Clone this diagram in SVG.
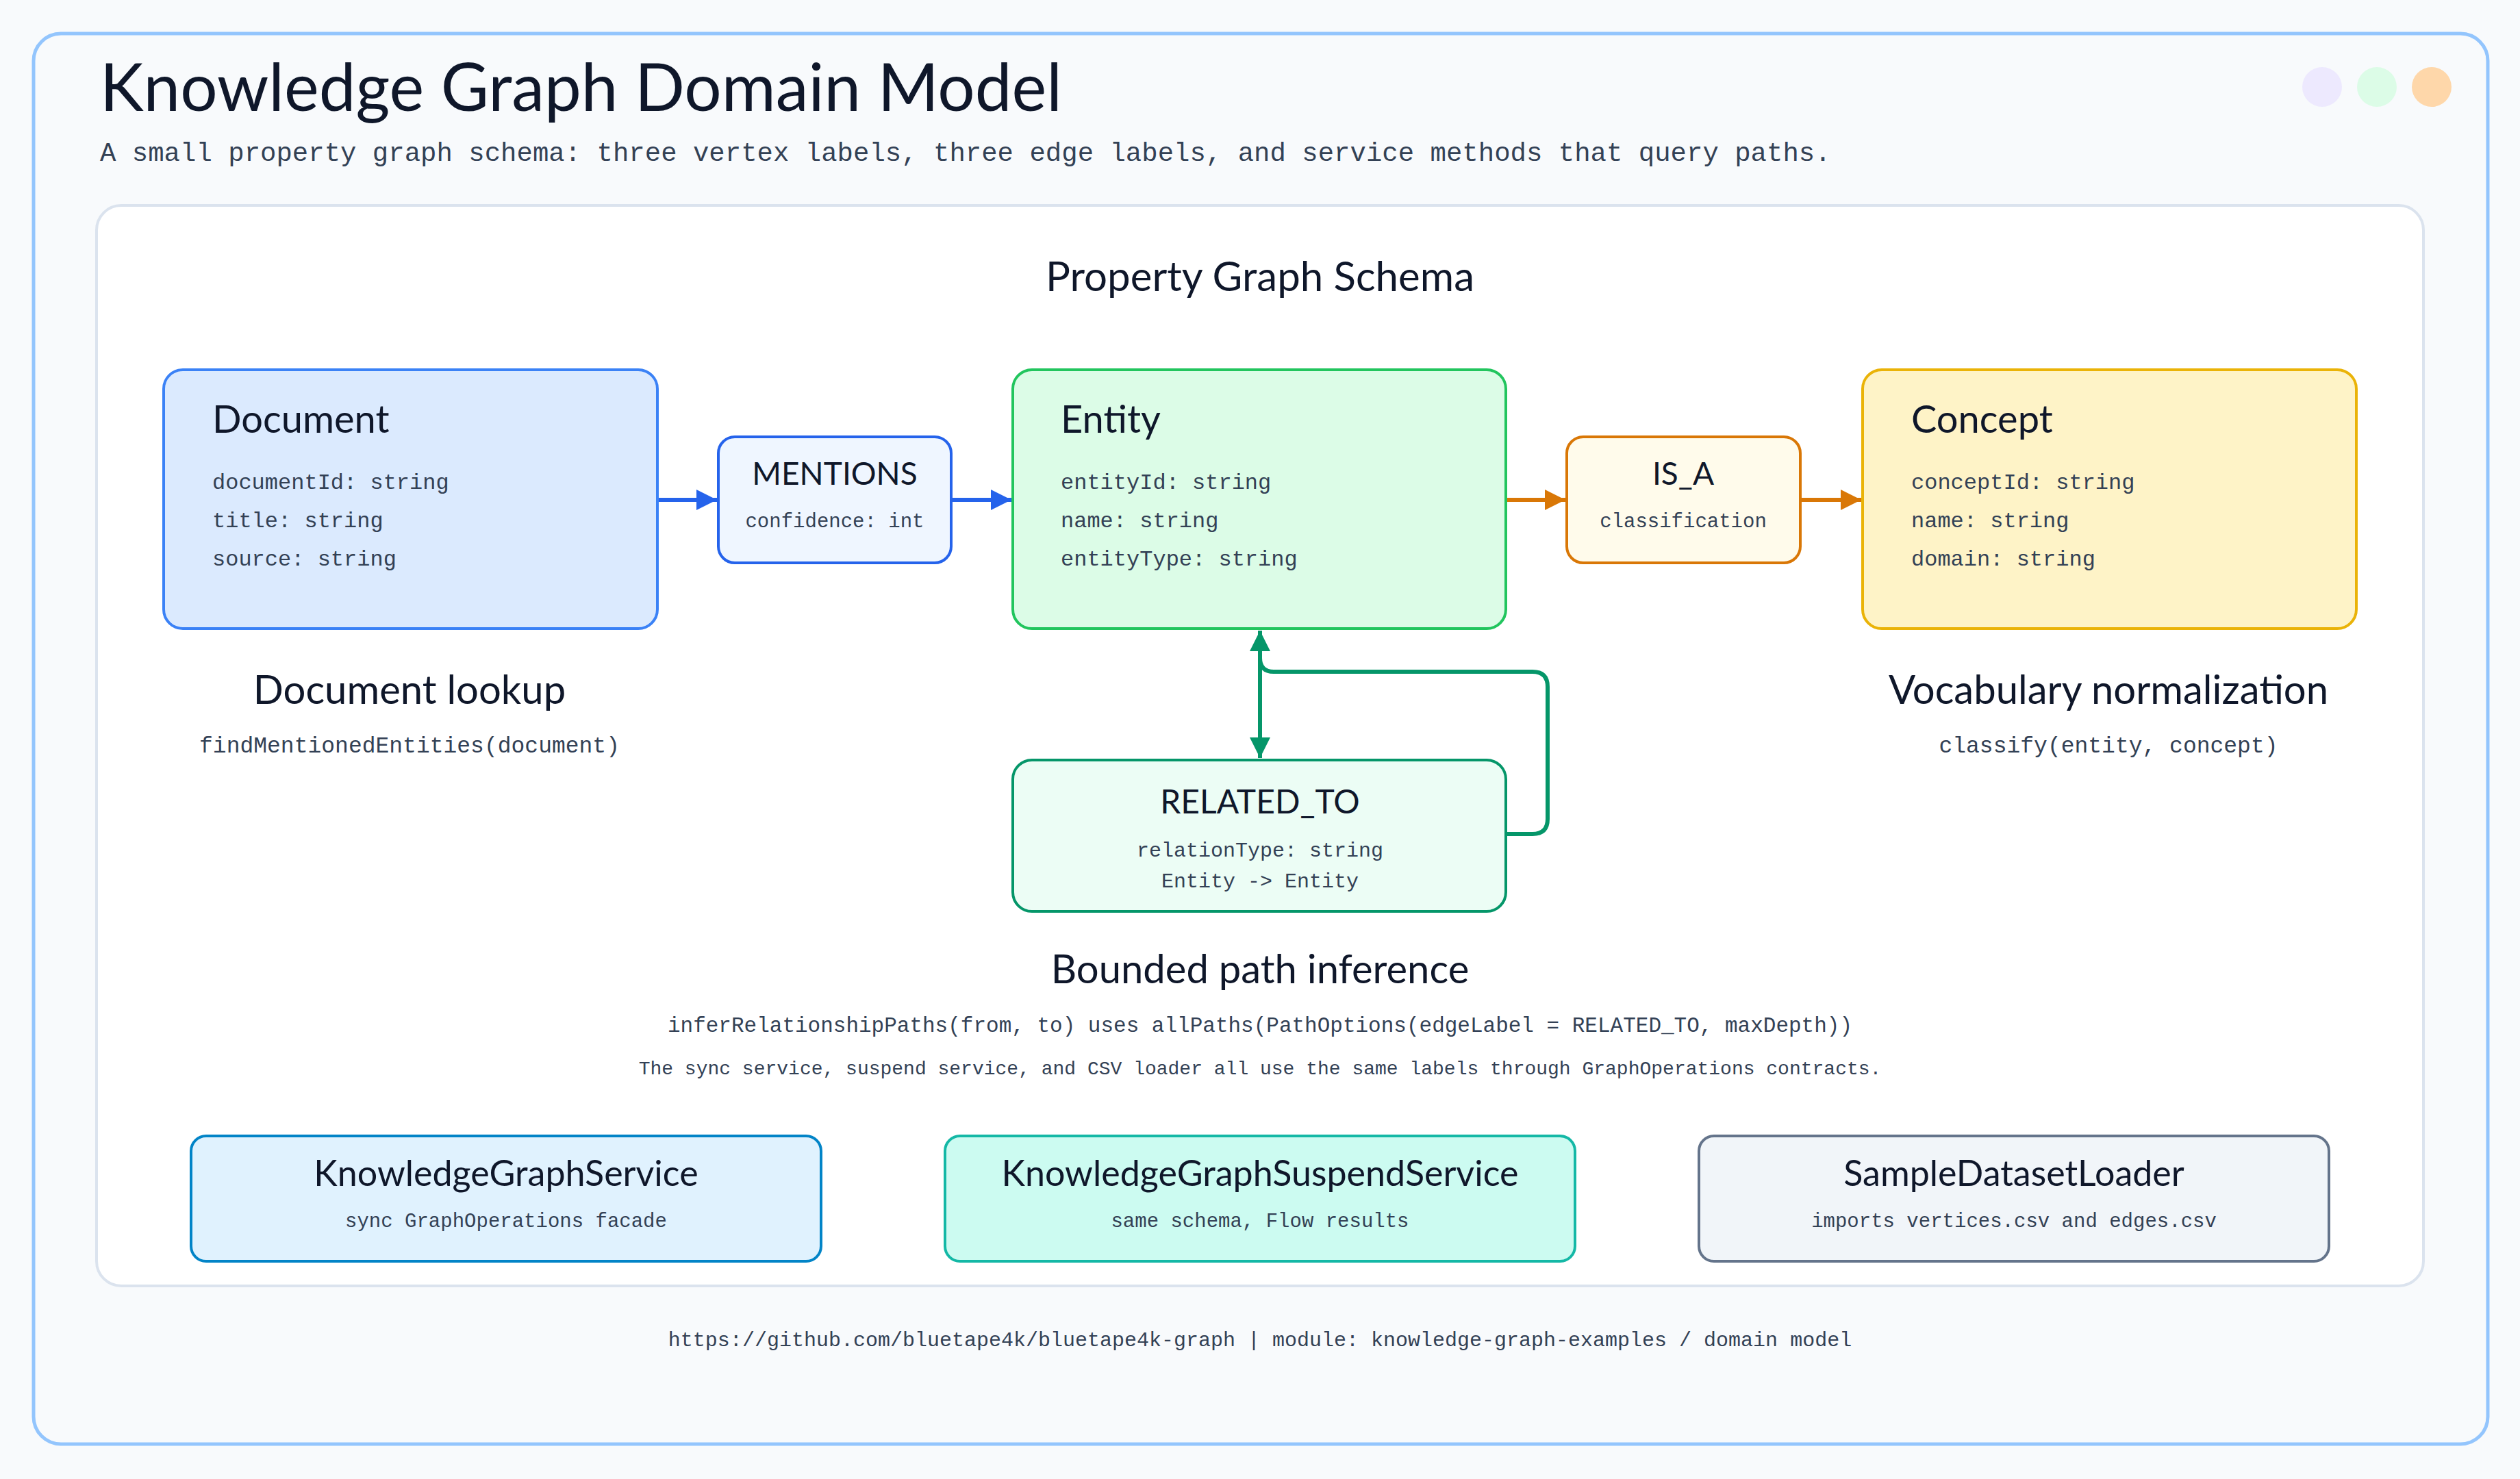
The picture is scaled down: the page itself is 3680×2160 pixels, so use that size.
<svg xmlns="http://www.w3.org/2000/svg" width="3680" height="2160" viewBox="0 0 3680 2160">
<style>
.h{font-family:Lato,"Open Sans",sans-serif;fill:#0f172a}
.m{font-family:"Liberation Mono","DejaVu Sans Mono",monospace;fill:#334155}
.c{text-anchor:middle}
.node{stroke-width:4}
.edge{fill:none;stroke-width:6}
</style>
<defs>
<marker id="ab" viewBox="0 0 10 10" refX="10" refY="5" markerWidth="5" markerHeight="5" orient="auto-start-reverse" markerUnits="strokeWidth"><path d="M0,0 L10,5 L0,10 z" fill="#2563eb"/></marker>
<marker id="ao" viewBox="0 0 10 10" refX="10" refY="5" markerWidth="5" markerHeight="5" orient="auto-start-reverse" markerUnits="strokeWidth"><path d="M0,0 L10,5 L0,10 z" fill="#d97706"/></marker>
<marker id="ag" viewBox="0 0 10 10" refX="10" refY="5" markerWidth="5" markerHeight="5" orient="auto-start-reverse" markerUnits="strokeWidth"><path d="M0,0 L10,5 L0,10 z" fill="#059669"/></marker>
</defs>
<rect width="3680" height="2160" fill="#f8fafc"/>
<rect x="49" y="49" width="3584" height="2060" rx="40" fill="#f8fafc" stroke="#93c5fd" stroke-width="5"/>
<text class="h" x="146" y="162" font-size="96">Knowledge Graph Domain Model</text>
<text class="m" x="146" y="235" font-size="39" fill="#475569">A small property graph schema: three vertex labels, three edge labels, and service methods that query paths.</text>
<circle cx="3391" cy="127" r="29" fill="#ede9fe"/>
<circle cx="3471" cy="127" r="29" fill="#dcfce7"/>
<circle cx="3551" cy="127" r="29" fill="#fed7aa"/>
<rect x="141" y="300" width="3398" height="1578" rx="36" fill="#ffffff" stroke="#dbe3ee" stroke-width="4"/>
<text class="h c" x="1840" y="425" font-size="60">Property Graph Schema</text>

<g id="connectors">
<line class="edge" x1="960" y1="730" x2="1047" y2="730" stroke="#2563eb" marker-end="url(#ab)"/>
<line class="edge" x1="1389" y1="730" x2="1477" y2="730" stroke="#2563eb" marker-end="url(#ab)"/>
<line class="edge" x1="2199" y1="730" x2="2286" y2="730" stroke="#d97706" marker-end="url(#ao)"/>
<line class="edge" x1="2629" y1="730" x2="2718" y2="730" stroke="#d97706" marker-end="url(#ao)"/>
<line class="edge" x1="1840" y1="921" x2="1840" y2="1107" stroke="#059669" marker-start="url(#ag)" marker-end="url(#ag)"/>
<path class="edge" d="M2199 1218 H2238 Q2260 1218 2260 1196 V1003 Q2260 981 2238 981 H1860 Q1840 981 1840 961 V921" stroke="#059669"/>
</g>

<g id="document">
<rect class="node" x="239" y="540" width="721" height="378" rx="28" fill="#dbeafe" stroke="#3b82f6"/>
<text class="h" x="310" y="632" font-size="56">Document</text>
<text class="m" x="310" y="714" font-size="32">documentId: string</text>
<text class="m" x="310" y="770" font-size="32">title: string</text>
<text class="m" x="310" y="826" font-size="32">source: string</text>
</g>
<g id="mentions">
<rect class="node" x="1049" y="638" width="340" height="184" rx="24" fill="#eff6ff" stroke="#2563eb"/>
<text class="h c" x="1219" y="708" font-size="46">MENTIONS</text>
<text class="m c" x="1219" y="770" font-size="29">confidence: int</text>
</g>
<g id="entity">
<rect class="node" x="1479" y="540" width="720" height="378" rx="28" fill="#dcfce7" stroke="#22c55e"/>
<text class="h" x="1549" y="632" font-size="56">Entity</text>
<text class="m" x="1549" y="714" font-size="32">entityId: string</text>
<text class="m" x="1549" y="770" font-size="32">name: string</text>
<text class="m" x="1549" y="826" font-size="32">entityType: string</text>
</g>
<g id="is_a">
<rect class="node" x="2288" y="638" width="341" height="184" rx="24" fill="#fffbeb" stroke="#d97706"/>
<text class="h c" x="2458" y="708" font-size="46">IS_A</text>
<text class="m c" x="2458" y="770" font-size="29">classification</text>
</g>
<g id="concept">
<rect class="node" x="2720" y="540" width="721" height="378" rx="28" fill="#fef3c7" stroke="#eab308"/>
<text class="h" x="2791" y="632" font-size="56">Concept</text>
<text class="m" x="2791" y="714" font-size="32">conceptId: string</text>
<text class="m" x="2791" y="770" font-size="32">name: string</text>
<text class="m" x="2791" y="826" font-size="32">domain: string</text>
</g>
<g id="related_to">
<rect class="node" x="1479" y="1110" width="720" height="221" rx="28" fill="#ecfdf5" stroke="#059669"/>
<text class="h c" x="1840" y="1188" font-size="48">RELATED_TO</text>
<text class="m c" x="1840" y="1251" font-size="30">relationType: string</text>
<text class="m c" x="1840" y="1296" font-size="30">Entity -&gt; Entity</text>
</g>

<g id="doc-lookup">
<text class="h c" x="598" y="1028" font-size="58">Document lookup</text>
<text class="m c" x="598" y="1099" font-size="33" fill="#1e293b">findMentionedEntities(document)</text>
</g>
<g id="vocab">
<text class="h c" x="3079" y="1028" font-size="58">Vocabulary normalization</text>
<text class="m c" x="3079" y="1099" font-size="33" fill="#1e293b">classify(entity, concept)</text>
</g>
<g id="bounded">
<text class="h c" x="1840" y="1436" font-size="58">Bounded path inference</text>
<text class="m c" x="1840" y="1507" font-size="31" fill="#1e293b">inferRelationshipPaths(from, to) uses allPaths(PathOptions(edgeLabel = RELATED_TO, maxDepth))</text>
<text class="m c" x="1840" y="1569" font-size="28" fill="#475569">The sync service, suspend service, and CSV loader all use the same labels through GraphOperations contracts.</text>
</g>

<g id="kgs">
<rect class="node" x="279" y="1659" width="920" height="183" rx="22" fill="#e0f2fe" stroke="#0284c7"/>
<text class="h c" x="739" y="1732" font-size="52">KnowledgeGraphService</text>
<text class="m c" x="739" y="1792" font-size="29">sync GraphOperations facade</text>
</g>
<g id="kgss">
<rect class="node" x="1380" y="1659" width="920" height="183" rx="22" fill="#ccfbf1" stroke="#14b8a6"/>
<text class="h c" x="1840" y="1732" font-size="52">KnowledgeGraphSuspendService</text>
<text class="m c" x="1840" y="1792" font-size="29">same schema, Flow results</text>
</g>
<g id="loader">
<rect class="node" x="2481" y="1659" width="920" height="183" rx="22" fill="#f1f5f9" stroke="#64748b"/>
<text class="h c" x="2941" y="1732" font-size="52">SampleDatasetLoader</text>
<text class="m c" x="2941" y="1792" font-size="29">imports vertices.csv and edges.csv</text>
</g>
<text class="m c" x="1840" y="1966" font-size="30" fill="#334155">https://github.com/bluetape4k/bluetape4k-graph | module: knowledge-graph-examples / domain model</text>
</svg>
